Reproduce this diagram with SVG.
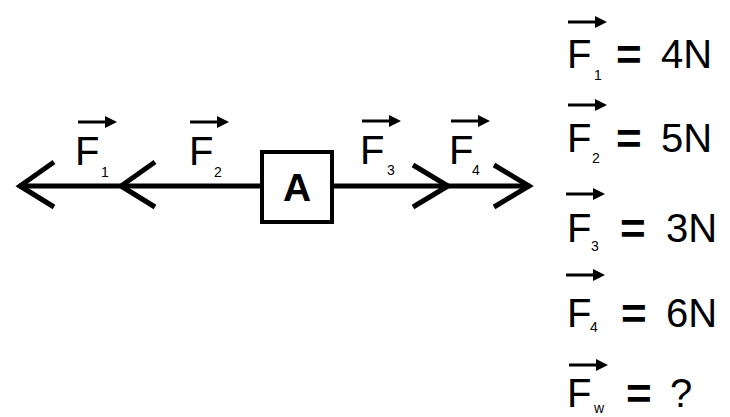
<svg xmlns="http://www.w3.org/2000/svg" width="730" height="417" viewBox="0 0 730 417">
<defs>
<style>
.ln{stroke:#000;stroke-width:5;fill:none}
.ch{stroke:#000;stroke-width:5;fill:none;stroke-linejoin:miter;stroke-linecap:butt}
.vec{stroke:#000;stroke-width:3;fill:none}
.F{font-family:"Liberation Sans",Arial,sans-serif;font-size:40px;fill:#000}
.s{font-family:"Liberation Sans",Arial,sans-serif;font-size:14px;fill:#000}
.eq{font-family:"Liberation Sans",Arial,sans-serif;font-size:40px;fill:#000}
.q{font-family:"Liberation Sans",Arial,sans-serif;font-size:44px;font-weight:bold;fill:#000}
</style>
<marker id="ah" markerWidth="4" markerHeight="4" refX="1" refY="2" orient="auto" markerUnits="strokeWidth">
<path d="M0,0 L4,2 L0,4 Z" fill="#000"/>
</marker>
</defs>
<rect width="730" height="417" fill="#fff"/>
<g id="connectors">
<line class="ln" x1="19" y1="186" x2="260" y2="186"/>
<path class="ch" d="M54,162 L20,186 L54,207"/>
<path class="ch" d="M155,162 L121,186 L155,207"/>
<line class="ln" x1="333" y1="186" x2="530" y2="186"/>
<path class="ch" d="M413,165 L448,186 L413,207"/>
<path class="ch" d="M494,165 L529,186 L494,207"/>
</g>
<g id="boxA">
<rect x="262" y="152" width="70" height="70" fill="#fff" stroke="#000" stroke-width="4"/>
<text x="297" y="201" text-anchor="middle" font-family="Liberation Sans,Arial,sans-serif" font-weight="bold" font-size="39">A</text>
</g>
<g id="labelF1">
<line class="vec" x1="78" y1="122" x2="108" y2="122" marker-end="url(#ah)"/>
<text class="F" x="75" y="165">F</text><text class="s" x="101" y="177">1</text>
</g>
<g id="labelF2">
<line class="vec" x1="190" y1="122" x2="220" y2="122" marker-end="url(#ah)"/>
<text class="F" x="189" y="165">F</text><text class="s" x="214" y="177">2</text>
</g>
<g id="labelF3">
<line class="vec" x1="362" y1="121" x2="392" y2="121" marker-end="url(#ah)"/>
<text class="F" x="360" y="164">F</text><text class="s" x="387" y="175">3</text>
</g>
<g id="labelF4">
<line class="vec" x1="451" y1="121" x2="481" y2="121" marker-end="url(#ah)"/>
<text class="F" x="449" y="164">F</text><text class="s" x="472" y="175">4</text>
</g>
<g id="eqF1">
<line class="vec" x1="568" y1="22" x2="598" y2="22" marker-end="url(#ah)"/>
<text class="F" x="567" y="68">F</text><text class="s" x="594" y="80">1</text>
<text class="q" x="616" y="70">=</text><text class="eq" x="661" y="68">4N</text>
</g>
<g id="eqF2">
<line class="vec" x1="568" y1="105" x2="598" y2="105" marker-end="url(#ah)"/>
<text class="F" x="567" y="152">F</text><text class="s" x="592" y="163">2</text>
<text class="q" x="616" y="154">=</text><text class="eq" x="661" y="152">5N</text>
</g>
<g id="eqF3">
<line class="vec" x1="566" y1="194" x2="596" y2="194" marker-end="url(#ah)"/>
<text class="F" x="567" y="242">F</text><text class="s" x="591" y="251">3</text>
<text class="q" x="620" y="244">=</text><text class="eq" x="666" y="242">3N</text>
</g>
<g id="eqF4">
<line class="vec" x1="566" y1="275" x2="596" y2="275" marker-end="url(#ah)"/>
<text class="F" x="567" y="327">F</text><text class="s" x="590" y="332">4</text>
<text class="q" x="621" y="329">=</text><text class="eq" x="666" y="327">6N</text>
</g>
<g id="eqFw">
<line class="vec" x1="569" y1="365" x2="599" y2="365" marker-end="url(#ah)"/>
<text class="F" x="567" y="407">F</text><text class="s" x="594" y="413">w</text>
<text class="q" x="626" y="409">=</text><text class="eq" x="670" y="407">?</text>
</g>
</svg>
